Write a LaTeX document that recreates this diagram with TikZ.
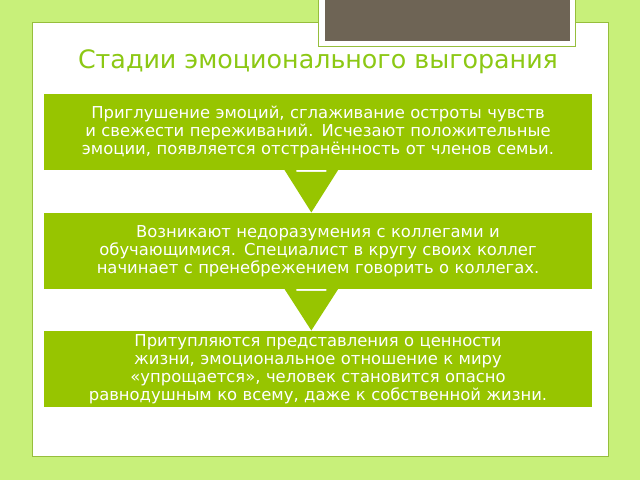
\documentclass[tikz,border=0pt]{standalone}
\usepackage{fontspec}
\setmainfont{DejaVu Sans}
\definecolor{bggreen}{RGB}{200,240,122}
\definecolor{stagegreen}{RGB}{151,197,0}
\definecolor{titlegreen}{RGB}{140,200,20}
\definecolor{tabbrown}{RGB}{110,100,85}
\definecolor{edgegreen}{RGB}{150,190,60}
\tikzset{every picture/.style={line width=0.75pt}}
\tikzset{stagebox/.style={fill=stagegreen,text=white,minimum width=411pt,minimum height=57pt,text width=408pt,align=center,inner sep=0pt,font=\fontsize{12.3}{13.5}\selectfont}}

\begin{document}
\begin{tikzpicture}[x=0.75pt,y=0.75pt,yscale=-1,xscale=1]
\useasboundingbox (0,0) rectangle (640,480);
%background
\fill [bggreen] (0,0) rectangle (640,480);
%white panel
\draw [fill=white,draw=edgegreen] (32,22) rectangle (608,456);
%tab
\draw [fill=white,draw=edgegreen] (318,-2) rectangle (575,46);
\fill [tabbrown] (325,0) rectangle (570,41);

% Title
\node (title) at (318,62) [text=titlegreen,font=\fontsize{19}{22}\selectfont] {Стадии эмоционального выгорания};

% Stages
\node (s1) at (318,132) [stagebox] {Приглушение эмоций, сглаживание остроты чувств и свежести переживаний. Исчезают положительные эмоции, появляется отстранённость от членов семьи.};
\node (s2) at (318,251) [stagebox] {Возникают недоразумения с коллегами и обучающимися. Специалист в кругу своих коллег начинает с пренебрежением говорить о коллегах.};
\node (s3) at (318,369) [stagebox] {Притупляются представления о ценности жизни, эмоциональное отношение к миру «упрощается», человек становится опасно равнодушным ко всему, даже к собственной жизни.};

% Arrows
\foreach \a/\b in {s1/s2,s2/s3}
  \fill [stagegreen] ([xshift=-16.25pt,yshift=1pt]\a.south) -- ([xshift=6.25pt,yshift=1pt]\a.south) -- ([xshift=6.25pt,yshift=-10pt]\a.south) -- ([xshift=21.25pt,yshift=-10pt]\a.south) -- ([xshift=-5pt]\b.north) -- ([xshift=-31.25pt,yshift=-10pt]\a.south) -- ([xshift=-16.25pt,yshift=-10pt]\a.south) -- cycle;

\end{tikzpicture}
\end{document}
